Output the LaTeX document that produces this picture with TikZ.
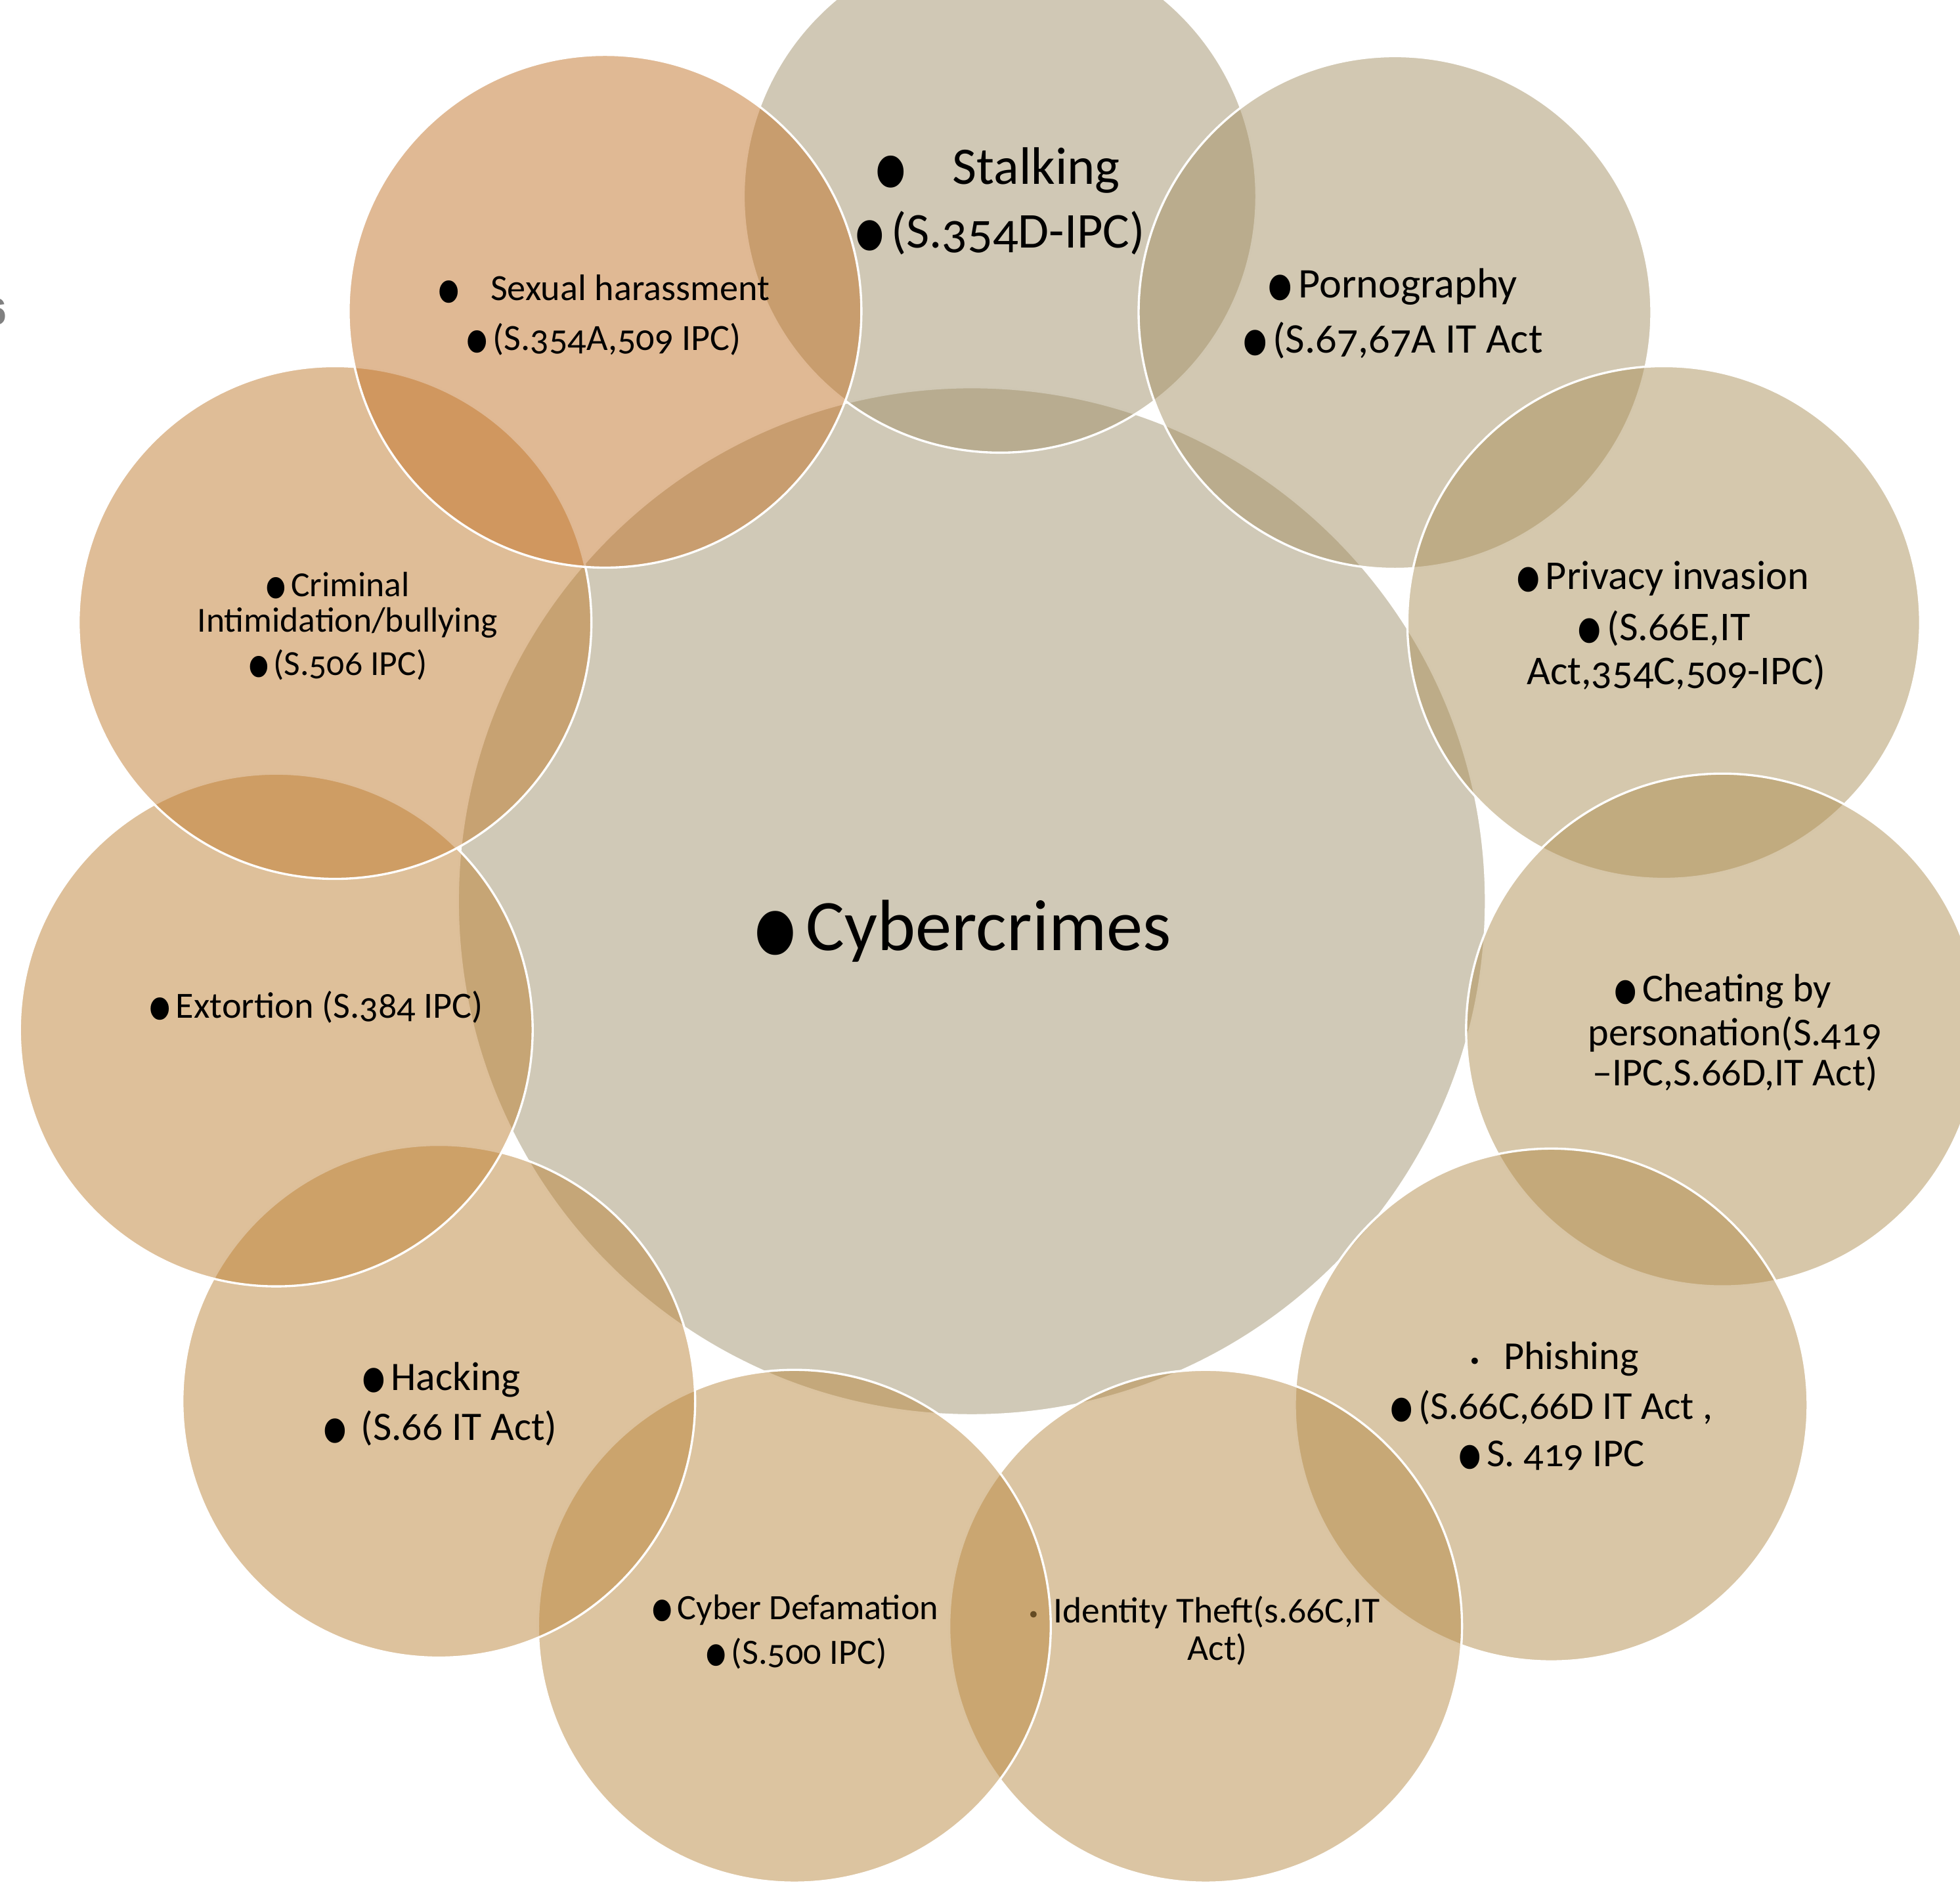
\documentclass[tikz,border=0pt]{standalone}
\usepackage{fontspec}
\setmainfont{Carlito}[Numbers=OldStyle]
\newfontfamily\bulfont{DejaVu Sans}
\newfontfamily\arialfont{Liberation Sans}
\newcommand{\bt}{\hspace{-0.2em}\smash{\raisebox{-0.54em}{\scalebox{1.7}[2.1]{\bulfont •}}}\hspace{-0.08em}}
\newcommand{\fs}[1]{\fontsize{#1}{#1}\selectfont}
\definecolor{cCenter}{RGB}{161,147,111}
\definecolor{cStalk}{RGB}{161,145,107}
\definecolor{cPorn}{RGB}{165,145,101}
\definecolor{cPriv}{RGB}{171,145,91}
\definecolor{cCheat}{RGB}{175,143,83}
\definecolor{cPhish}{RGB}{179,141,77}
\definecolor{cIdent}{RGB}{183,139,71}
\definecolor{cDefam}{RGB}{185,137,65}
\definecolor{cHack}{RGB}{187,133,59}
\definecolor{cExtort}{RGB}{189,129,53}
\definecolor{cCrim}{RGB}{191,123,47}
\definecolor{cSex}{RGB}{193,115,41}
\definecolor{cIdDot}{RGB}{100,75,35}
\tikzset{
  bubble/.style={circle, inner sep=0pt, outer sep=0pt, draw=white, line width=0.5pt,
    fill opacity=0.5, draw opacity=1, minimum size=4.1cm},
  bigbubble/.style={bubble, minimum size=8.22cm},
  txt/.style={inner sep=0pt, outer sep=0pt, anchor=mid, text=black}
}
\begin{document}
\begin{tikzpicture}[x=0.01cm, y=-0.01cm]
\useasboundingbox (0,0) rectangle (1568,1512.8);
% circles
\node[bigbubble, fill=cCenter] (center) at (777.5,721) {};
\node[bubble, fill=cStalk]  (stalk)  at (800,157) {};
\node[bubble, fill=cPorn]   (porn)   at (1116,250) {};
\node[bubble, fill=cPriv]   (priv)   at (1331,498) {};
\node[bubble, fill=cCheat]  (cheat)  at (1378,824) {};
\node[bubble, fill=cPhish]  (phish)  at (1241,1124) {};
\node[bubble, fill=cIdent]  (ident)  at (964.5,1301) {};
\node[bubble, fill=cDefam]  (defam)  at (635.5,1301) {};
\node[bubble, fill=cHack]   (hack)   at (351,1121) {};
\node[bubble, fill=cExtort] (extort) at (221,824) {};
\node[bubble, fill=cCrim]   (crim)   at (268,498) {};
\node[bubble, fill=cSex]    (sex)    at (484,249) {};
% stray fragment at left edge
\node[inner sep=0pt, anchor=base east, text=gray, font=\arialfont\bfseries\fs{8.5}] (frag) at (6,260) {6};
% texts
\node[txt, font=\fs{16.5}] (cc) at (770,752) {\bt Cybercrimes};
\node[txt, font=\fs{12}] (st1) at (798,139) {\bt\hspace{9pt}Stalking};
\node[txt, font=\fs{11.4}] (st2) at (800,190) {\bt(S.354D-IPC)};
\node[txt, font=\fs{8.4}] (sh1) at (483,232) {\bt\hspace{6pt}Sexual harassment};
\node[txt, font=\fs{8.4}] (sh2) at (483,272) {\bt(S.354A,509 IPC)};
\node[txt, font=\fs{9.6}] (po1) at (1114,230) {\bt Pornography};
\node[txt, font=\fs{9.6}] (po2) at (1114,274) {\bt(S.67,67A IT Act};
\node[txt, font=\fs{9.3}] (pr1) at (1330,463) {\bt Privacy invasion};
\node[txt, font=\fs{9.3}] (pr2) at (1331,504) {\bt(S.66E,IT};
\node[txt, font=\fs{9.3}] (pr3) at (1341,539) {Act,354C,509-IPC)};
\node[txt, font=\fs{9}] (ch1) at (1378,793) {\bt Cheating by};
\node[txt, font=\fs{9}] (ch2) at (1388,828) {personation(S.419};
\node[txt, font=\fs{9}] (ch3) at (1388,860) {–IPC,S.66D,IT Act)};
\node[txt, font=\fs{9}] (ph1) at (1243,1087) {{\bulfont\fs{5}•}\hspace{5pt}Phishing};
\node[txt, font=\fs{9}] (ph2) at (1241,1127) {\bt(S.66C,66D IT Act ,};
\node[txt, font=\fs{9}] (ph3) at (1241,1165) {\bt S. 419 IPC};
\node[txt, font=\fs{8.3}] (id1) at (963,1290) {{\bulfont\fs{5}\color{cIdDot}•}\hspace{3pt}Identity Theft(s.66C,IT};
\node[txt, font=\fs{8.3}] (id2) at (974,1320) {Act)};
\node[txt, font=\fs{8.1}] (cd1) at (636,1287) {\bt Cyber Defamation};
\node[txt, font=\fs{8.1}] (cd2) at (637,1323) {\bt(S.500 IPC)};
\node[txt, font=\fs{9.2}] (hk1) at (353,1104) {\bt Hacking};
\node[txt, font=\fs{9.2}] (hk2) at (352,1144) {\bt\hspace{2pt}(S.66 IT Act)};
\node[txt, font=\fs{8.4}] (ex1) at (253,806) {\bt Extortion (S.384 IPC)};
\node[txt, font=\fs{8}] (cr1) at (270,469) {\bt Criminal};
\node[txt, font=\fs{8}] (cr2) at (278,497) {Intimidation/bullying};
\node[txt, font=\fs{8}] (cr3) at (270,532) {\bt (S.506 IPC)};
\end{tikzpicture}
\end{document}
